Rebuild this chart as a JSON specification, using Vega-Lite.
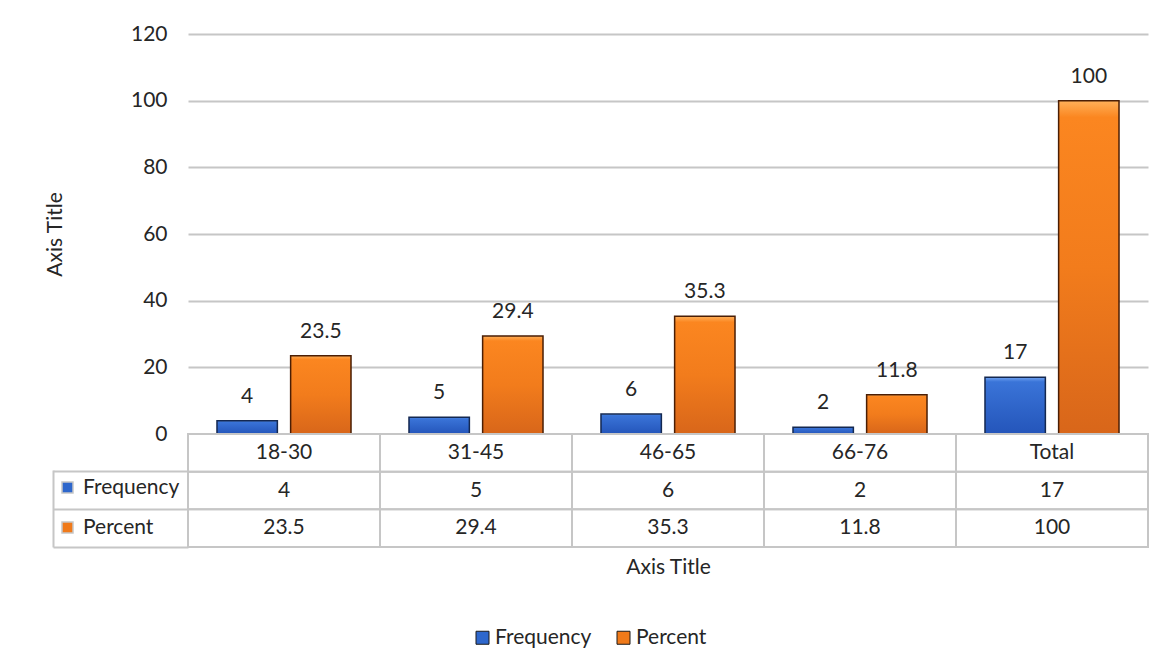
{
  "$schema": "https://vega.github.io/schema/vega-lite/v6.json",
  "background": "white",
  "padding": {"left": 44, "top": 23, "right": 20, "bottom": 20},
  "config": {
    "font": "Lato",
    "view": {"stroke": null},
    "axis": {"labelFont": "Lato", "titleFont": "Lato", "labelColor": "#262626", "titleColor": "#262626"},
    "legend": {"labelFont": "Lato", "labelColor": "#262626"},
    "text": {"font": "Lato", "color": "#262626"}
  },
  "data": {
    "values": [
      {"category": "18-30", "series": "Frequency", "value": 4},
      {"category": "18-30", "series": "Percent", "value": 23.5},
      {"category": "31-45", "series": "Frequency", "value": 5},
      {"category": "31-45", "series": "Percent", "value": 29.4},
      {"category": "46-65", "series": "Frequency", "value": 6},
      {"category": "46-65", "series": "Percent", "value": 35.3},
      {"category": "66-76", "series": "Frequency", "value": 2},
      {"category": "66-76", "series": "Percent", "value": 11.8},
      {"category": "Total", "series": "Frequency", "value": 17},
      {"category": "Total", "series": "Percent", "value": 100}
    ]
  },
  "spacing": 0,
  "bounds": "flush",
  "resolve": {"scale": {"x": "independent", "y": "independent", "color": "independent"}, "legend": {"color": "independent"}},
  "vconcat": [
    {
      "width": 960,
      "height": 400,
      "encoding": {
        "x": {"field": "category", "type": "nominal", "sort": null, "scale": {"paddingInner": 0.302, "paddingOuter": 0.151}, "axis": null},
        "xOffset": {"field": "series", "type": "nominal", "sort": null, "scale": {"paddingInner": 0.18, "paddingOuter": 0}},
        "y": {
          "field": "value", "type": "quantitative",
          "scale": {"domain": [0, 120], "nice": false},
          "axis": {
            "values": [0, 20, 40, 60, 80, 100, 120],
            "title": "Axis Title", "titleFontSize": 21, "titleFontWeight": "normal", "titlePadding": 65,
            "labelFontSize": 21, "labelPadding": 21, "ticks": false, "domain": false,
            "gridColor": "#C6C6C6", "gridWidth": 2
          }
        }
      },
      "layer": [
        {
          "mark": {"type": "bar"},
          "encoding": {
            "color": {
              "field": "series", "type": "nominal", "sort": null,
              "scale": {"domain": ["Frequency", "Percent"], "range": ["#2E67CC", "#F07A1A"]},
              "legend": {
                "orient": "none", "legendX": 284, "legendY": 593, "direction": "horizontal", "title": null,
                "symbolType": "square", "symbolSize": 169, "labelFontSize": 21, "columnPadding": 21, "labelOffset": 2,
                "symbolStrokeColor": "#1B1B1B", "symbolStrokeWidth": 1
              }
            }
          }
        },
        {
          "mark": {"type": "bar", "strokeWidth": 1.5},
          "encoding": {
            "fill": {
              "condition": {
                "test": "datum.series === 'Frequency'",
                "value": {"gradient": "linear", "x1": 0, "y1": 0, "x2": 0, "y2": 1,
                  "stops": [{"offset": 0, "color": "#6FA2F0"}, {"offset": 0.08, "color": "#3A74D8"}, {"offset": 1, "color": "#2455BA"}]}
              },
              "value": {"gradient": "linear", "x1": 0, "y1": 0, "x2": 0, "y2": 1,
                "stops": [{"offset": 0, "color": "#FFB05A"}, {"offset": 0.05, "color": "#FB8620"}, {"offset": 0.5, "color": "#F27C1C"}, {"offset": 1, "color": "#D8661A"}]}
            },
            "stroke": {"condition": {"test": "datum.series === 'Frequency'", "value": "#142850"}, "value": "#4A1E05"}
          }
        },
        {
          "mark": {"type": "text", "dy": -18, "baseline": "alphabetic", "fontSize": 21},
          "encoding": {"text": {"field": "value", "type": "quantitative"}}
        }
      ]
    },
    {
      "width": 960,
      "height": 113,
      "encoding": {
        "x": {
          "field": "category", "type": "nominal", "sort": null,
          "scale": {"paddingInner": 0, "paddingOuter": 0},
          "axis": {"labels": false, "ticks": false, "domain": false, "title": "Axis Title", "titleFontSize": 21, "titleFontWeight": "normal", "titlePadding": 9}
        }
      },
      "layer": [
        {
          "transform": [{"filter": "datum.series === 'Frequency'"}],
          "mark": {"type": "rect", "fill": "white", "stroke": "#C6C6C6", "strokeWidth": 2},
          "encoding": {
            "y": {
              "datum": "head", "type": "nominal",
              "scale": {"domain": ["head", "Frequency", "Percent"], "paddingInner": 0, "paddingOuter": 0},
              "axis": {
                "labels": false, "title": null, "grid": false, "offset": 135, "tickSize": -135, "bandPosition": 1,
                "tickColor": "#C6C6C6", "tickWidth": 2, "domainColor": "#C6C6C6", "domainWidth": 2, "domainDash": [0, 36, 200]
              }
            }
          }
        },
        {
          "mark": {"type": "rect", "fillOpacity": 0, "stroke": "#C6C6C6", "strokeWidth": 2},
          "encoding": {
            "y": {"field": "series", "type": "nominal"},
            "color": {
              "field": "series", "type": "nominal", "sort": null,
              "scale": {"domain": ["Frequency", "Percent"], "range": ["#2E67CC", "#F07A1A"]},
              "legend": {
                "orient": "none", "legendX": -131, "legendY": 43, "direction": "vertical", "title": null,
                "symbolType": "square", "symbolSize": 121, "labelFontSize": 21, "rowPadding": 18, "labelOffset": 5,
                "symbolOpacity": 1,
                "encode": {"symbols": {"update": {"fillOpacity": {"value": 1}, "stroke": {"value": "#1B1B1B"}, "strokeWidth": {"value": 1}}}}
              }
            }
          }
        },
        {
          "transform": [{"filter": "datum.series === 'Frequency'"}],
          "mark": {"type": "text", "fontSize": 21},
          "encoding": {"y": {"datum": "head", "type": "nominal"}, "text": {"field": "category", "type": "nominal"}}
        },
        {
          "mark": {"type": "text", "fontSize": 21},
          "encoding": {"y": {"field": "series", "type": "nominal"}, "text": {"field": "value", "type": "quantitative"}}
        }
      ]
    }
  ]
}
